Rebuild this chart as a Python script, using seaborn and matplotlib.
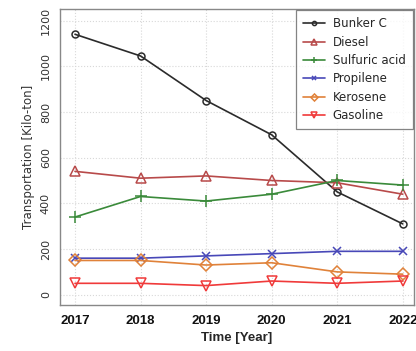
import matplotlib
matplotlib.use("Agg")
import matplotlib.pyplot as plt
import seaborn as sns
import pandas as pd

years = [2017, 2018, 2019, 2020, 2021, 2022]
bunker_c = [1140, 1045, 850, 700, 450, 310]
diesel = [540, 510, 520, 500, 490, 440]
sulfuric_acid = [340, 430, 410, 440, 500, 480]
propilene = [160, 160, 170, 180, 190, 190]
kerosene = [150, 150, 130, 140, 100, 90]
gasoline = [50, 50, 40, 60, 50, 60]

names = ["Bunker C", "Diesel", "Sulfuric acid", "Propilene", "Kerosene", "Gasoline"]
values = [bunker_c, diesel, sulfuric_acid, propilene, kerosene, gasoline]
colors = ["#2b2b2b", "#b84a4a", "#3a8a3a", "#4848b8", "#e0823a", "#f03a3a"]
markers = ["o", "^", "+", "x", "D", "v"]
msizes = [5, 7, 8, 6, 6, 7]

sns.set_style("white")
fig = plt.figure(figsize=(4.16, 3.51), dpi=100)
ax = fig.add_axes([0.144, 0.131, 0.851, 0.843])

for name, vals, c, m, ms in zip(names, values, colors, markers, msizes):
    df = pd.DataFrame({"Year": years, "Value": vals})
    filled = m in ("+", "x")
    sns.lineplot(data=df, x="Year", y="Value", ax=ax, color=c, marker=m,
                 markersize=ms, linewidth=1.2, label=name,
                 markerfacecolor=c if filled else "none",
                 markeredgecolor=c, markeredgewidth=1.1)

ax.set_xlim(2016.77, 2022.17)
ax.set_ylim(-45, 1250)
ax.set_xticks(years)
ax.set_xticklabels([str(y) for y in years], fontsize=9.5, fontweight="bold",
                   family="Liberation Sans")
ax.set_yticks([0, 200, 400, 600, 800, 1000, 1200])
ax.set_yticklabels(["0", "200", "400", "600", "800", "1000", "1200"], rotation=90,
                   va="center", fontsize=8, color="#333333")
ax.grid(True, linestyle=":", color="#d8d8d8", linewidth=0.8)
ax.tick_params(axis="both", which="both", length=3, color="#777777", direction="out")
ax.tick_params(axis="x", colors="#111111", pad=4)
for s in ax.spines.values():
    s.set_color("#888888")
    s.set_linewidth(1.0)

ax.set_xlabel("Time [Year]", fontsize=9.5, fontweight="bold", family="Liberation Sans")
ax.set_ylabel("Transportation [Kilo-ton]", fontsize=8.5, color="#333333")

leg = ax.legend(loc="upper right", fontsize=8.5, frameon=True, fancybox=False,
                borderpad=0.6, handlelength=1.8, labelspacing=0.45, markerscale=0.6,
                bbox_to_anchor=(1.0, 1.0), borderaxespad=0.1, handletextpad=0.7)
leg.get_frame().set_edgecolor("#666666")
leg.get_frame().set_linewidth(0.9)

fig.savefig("out.png", dpi=100)
